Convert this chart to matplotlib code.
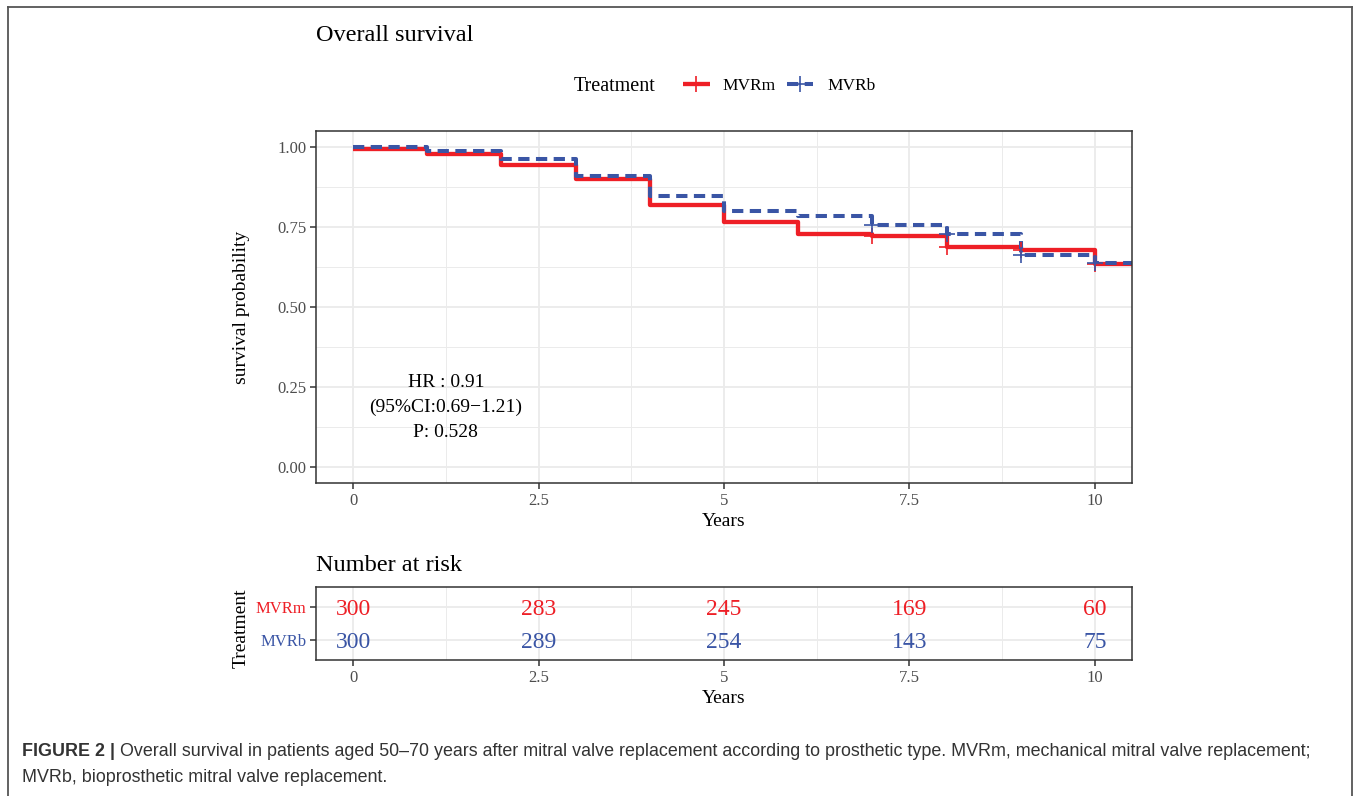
import matplotlib
matplotlib.use("Agg")
import matplotlib.pyplot as plt
from matplotlib.lines import Line2D
import numpy as np

# ---------------- data ----------------
times = [0, 1, 2, 3, 4, 5, 6, 7, 8, 9, 10]
mvrm_surv = [0.995, 0.977, 0.945, 0.899, 0.818, 0.765, 0.728, 0.721, 0.686, 0.679, 0.634]
mvrb_surv = [0.999, 0.986, 0.962, 0.910, 0.847, 0.800, 0.784, 0.755, 0.729, 0.664, 0.637]
censor_times = [7, 8, 9, 10]
x_ticks = [0, 2.5, 5, 7.5, 10]
x_tick_labels = ["0", "2.5", "5", "7.5", "10"]
y_ticks = [0.0, 0.25, 0.5, 0.75, 1.0]
y_tick_labels = ["0.00", "0.25", "0.50", "0.75", "1.00"]
groups = ["MVRm", "MVRb"]
risk_times = [0, 2.5, 5, 7.5, 10]
risk_mvrm = [300, 283, 245, 169, 60]
risk_mvrb = [300, 289, 254, 143, 75]
hr_lines = ["HR : 0.91", "(95%CI:0.69\u22121.21)", "P: 0.528"]

RED = "#EE1F26"
BLUE = "#3A55A5"
GRID = "#EBEBEB"
TICKC = "#4D4D4D"
SERIF = ["Liberation Serif", "DejaVu Serif"]
SANS = ["Liberation Sans", "DejaVu Sans"]

plt.rcParams["font.family"] = SERIF
W, H = 1360, 796
fig = plt.figure(figsize=(W / 100, H / 100), dpi=100)


def fx(px):
    return px / W


def fy(py):
    return 1 - py / H


# outer frame
for xs, ys in [([8, 8], [7, 796]), ([8, 1352], [7, 7]), ([1352, 1352], [7, 796])]:
    fig.add_artist(Line2D([fx(v) for v in xs], [fy(v) for v in ys], transform=fig.transFigure,
                          color="#555555", lw=1.3))

XMIN, XMAX = -0.5, 10.5


def style_axes(ax):
    for s in ax.spines.values():
        s.set_color("#333333")
        s.set_linewidth(1.1)
    ax.tick_params(axis="both", which="major", length=4, width=1.1, color="#333333",
                   labelsize=12, labelcolor=TICKC, pad=3)
    ax.tick_params(axis="both", which="minor", length=0)
    ax.grid(True, which="major", color=GRID, lw=1.3)
    ax.grid(True, which="minor", color=GRID, lw=0.7)
    ax.set_axisbelow(True)


# ---------------- main survival panel ----------------
ax = fig.add_axes([fx(316), fy(483), fx(1132) - fx(316), fy(131) - fy(483)])
ax.set_xlim(XMIN, XMAX)
ax.set_ylim(-0.05, 1.05)
ax.set_xticks(x_ticks)
ax.set_xticklabels(x_tick_labels)
ax.set_yticks(y_ticks)
ax.set_yticklabels(y_tick_labels)
ax.set_xticks([1.25, 3.75, 6.25, 8.75], minor=True)
ax.set_yticks([0.125, 0.375, 0.625, 0.875], minor=True)
style_axes(ax)

t_ext = times + [XMAX + 0.2]
m_ext = mvrm_surv + [mvrm_surv[-1]]
b_ext = mvrb_surv + [mvrb_surv[-1]]
ax.step(t_ext, m_ext, where="post", color=RED, lw=3.1, solid_capstyle="butt")
lb, = ax.step(t_ext, b_ext, where="post", color=BLUE, lw=2.9)
lb.set_dashes((2.8, 1.6))


def surv_at(tv, tlist, slist):
    idx = np.searchsorted(tlist, tv, side="right") - 1
    return slist[idx]


cm = [surv_at(t, times, mvrm_surv) for t in censor_times]
cb = [surv_at(t, times, mvrb_surv) for t in censor_times]
ax.plot(censor_times, cm, ls="none", marker="+", ms=11, mew=1.2, color=RED)
ax.plot(censor_times, cb, ls="none", marker="+", ms=11, mew=1.2, color=BLUE)

hr_y = [0.251, 0.172, 0.094]
for yy, s in zip(hr_y, hr_lines):
    ax.text(1.25, yy, s, ha="center", va="baseline", fontsize=14, color="black")

ax.set_xlabel("Years", fontsize=14, color="black", labelpad=3)
fig.text(fx(241), fy(307), "survival probability", rotation=90, ha="center", va="center",
         fontsize=14, color="black")

fig.text(fx(316), fy(33), "Overall survival", ha="left", va="center_baseline", fontsize=17.5,
         color="black")

# legend (manual)
ly = fy(84)
fig.text(fx(574), ly, "Treatment", ha="left", va="center_baseline", fontsize=14.5, color="black")
fig.add_artist(Line2D([fx(683), fx(710)], [ly, ly], transform=fig.transFigure, color=RED, lw=3.1,
                      solid_capstyle="butt"))
fig.add_artist(Line2D([fx(696.5)], [ly], transform=fig.transFigure, color=RED, marker="+", ms=11, mew=1.2))
fig.text(fx(722), ly, "MVRm", ha="left", va="center_baseline", fontsize=12.5, color="black")
kb = Line2D([fx(787), fx(813)], [ly, ly], transform=fig.transFigure, color=BLUE, lw=2.9)
kb.set_dashes((2.8, 1.6))
fig.add_artist(kb)
fig.add_artist(Line2D([fx(800)], [ly], transform=fig.transFigure, color=BLUE, marker="+", ms=11, mew=1.2))
fig.text(fx(827), ly, "MVRb", ha="left", va="center_baseline", fontsize=12.5, color="black")

# ---------------- number at risk table ----------------
rx = fig.add_axes([fx(316), fy(660), fx(1132) - fx(316), fy(587) - fy(660)])
rx.set_xlim(XMIN, XMAX)
rx.set_ylim(0.4, 2.6)
rx.set_xticks(x_ticks)
rx.set_xticklabels(x_tick_labels)
rx.set_xticks([1.25, 3.75, 6.25, 8.75], minor=True)
rx.set_yticks([2, 1])
rx.set_yticklabels(groups)
style_axes(rx)
rx.get_yticklabels()[0].set_color(RED)
rx.get_yticklabels()[1].set_color(BLUE)
for t, n in zip(risk_times, risk_mvrm):
    rx.text(t, 2, str(n), ha="center", va="center_baseline", fontsize=17, color=RED)
for t, n in zip(risk_times, risk_mvrb):
    rx.text(t, 1, str(n), ha="center", va="center_baseline", fontsize=17, color=BLUE)
rx.set_xlabel("Years", fontsize=14, color="black", labelpad=3)
fig.text(fx(241), fy(628), "Treatment", rotation=90, ha="center", va="center",
         fontsize=14, color="black")
fig.text(fx(316), fy(563), "Number at risk", ha="left", va="center_baseline", fontsize=17.5,
         color="black")

# ---------------- caption ----------------
cap_fs = 12.9
t1 = fig.text(fx(22), fy(750), "FIGURE 2 |", ha="left", va="center_baseline", fontsize=cap_fs,
              fontweight="bold", family=SANS, color="#333333")
fig.canvas.draw()
bb = t1.get_window_extent()
fig.text((bb.x1 + 5) / W, fy(750),
         "Overall survival in patients aged 50\u201370 years after mitral valve replacement according to "
         "prosthetic type. MVRm, mechanical mitral valve replacement;",
         ha="left", va="center_baseline", fontsize=cap_fs, family=SANS, color="#333333")
fig.text(fx(22), fy(775), "MVRb, bioprosthetic mitral valve replacement.", ha="left",
         va="center_baseline", fontsize=cap_fs, family=SANS, color="#333333")

fig.savefig("out.png", dpi=100)
